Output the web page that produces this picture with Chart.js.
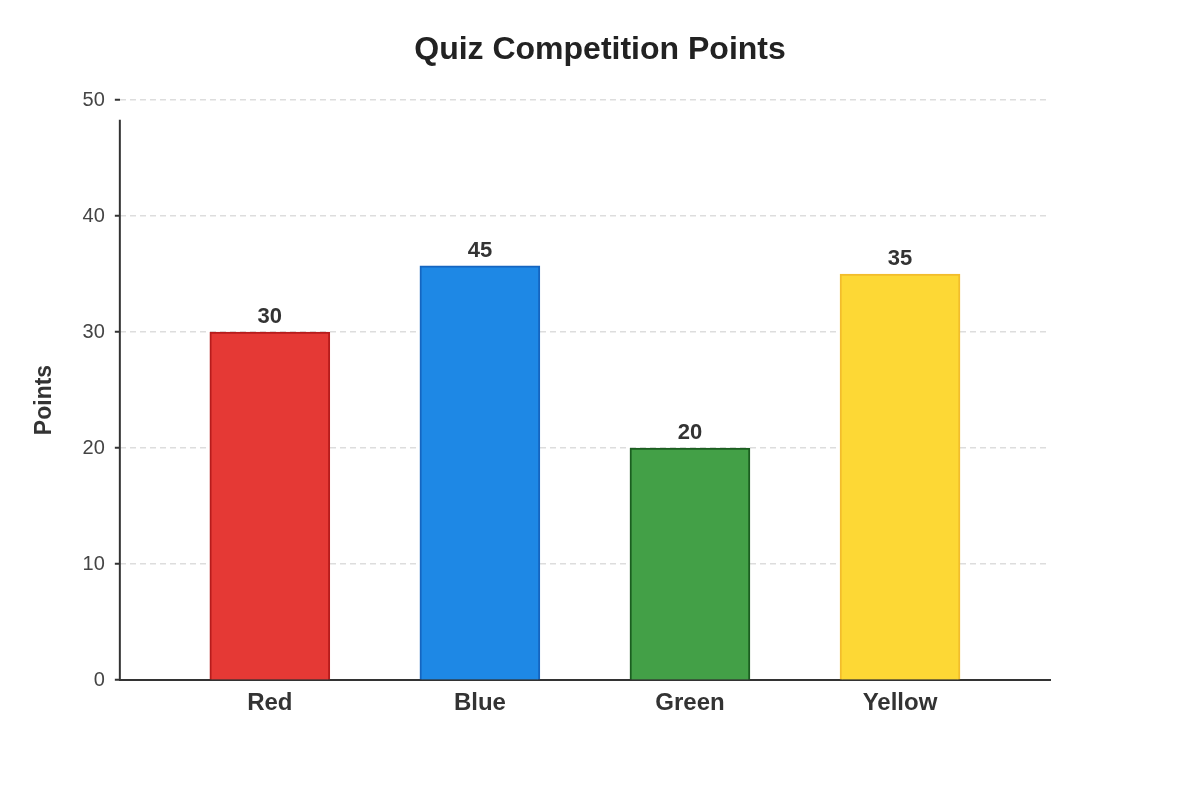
<!DOCTYPE html>
<html>
<head>
<meta charset="utf-8">
<script src="https://cdn.jsdelivr.net/npm/chart.js@4"></script>
<style>
  html, body { margin: 0; padding: 0; background: #fff; }
  #wrap { width: 1200px; height: 800px; }
</style>
</head>
<body>
<div id="wrap"><canvas id="bar"></canvas></div>
<script>
// data
let teams = ['Red', 'Blue', 'Green', 'Yellow'];
let points = [30, 35.7, 20, 35];          // bar heights as drawn
let pointLabels = ['30', '45', '20', '35']; // numbers printed over the bars
let yTicks = [0, 10, 20, 30, 40, 50];
let chartTitle = 'Quiz Competition Points';
let yTitle = 'Points';

let fills = ['#e53935', '#1e88e5', '#43a047', '#fdd835'];
let edges = ['#b71c1c', '#1565c0', '#1b5e20', '#f2bd2c'];

const FONT = '"Liberation Sans", Arial, sans-serif';
Chart.defaults.font.family = FONT;

// numbers over the bars
const barLabels = {
  id: 'barLabels',
  afterDatasetsDraw(chart) {
    const ctx = chart.ctx;
    const meta = chart.getDatasetMeta(0);
    ctx.save();
    ctx.font = 'bold 22px ' + FONT;
    ctx.fillStyle = '#333';
    ctx.textAlign = 'center';
    ctx.textBaseline = 'bottom';
    meta.data.forEach((bar, i) => {
      ctx.fillText(pointLabels[i], bar.x, bar.y - 4);
    });
    ctx.restore();
  }
};

// y axis line stops a bit below the top gridline, titles centred on the page
const extras = {
  id: 'extras',
  afterDraw(chart) {
    const ctx = chart.ctx;
    const y = chart.scales.y;
    ctx.save();
    ctx.strokeStyle = '#333';
    ctx.lineWidth = 2;
    ctx.beginPath();
    ctx.moveTo(chart.chartArea.left, y.getPixelForValue(48.3));
    ctx.lineTo(chart.chartArea.left, chart.chartArea.bottom);
    ctx.stroke();

    ctx.font = 'bold 32px ' + FONT;
    ctx.fillStyle = '#222';
    ctx.textAlign = 'center';
    ctx.textBaseline = 'middle';
    ctx.fillText(chartTitle, chart.width / 2, 50);

    ctx.translate(y.left + 18, chart.height / 2);
    ctx.rotate(-Math.PI / 2);
    ctx.font = 'bold 23px ' + FONT;
    ctx.fillStyle = '#333';
    ctx.fillText(yTitle, 0, 0);
    ctx.restore();
  }
};

new Chart(document.getElementById('bar'), {
  type: 'bar',
  data: {
    datasets: [{
      label: 'Points',
      data: points.map((v, i) => ({ x: i, y: v })),
      backgroundColor: fills,
      borderColor: edges,
      borderWidth: 2,
      borderSkipped: 'bottom',
      barThickness: 120
    }]
  },
  plugins: [barLabels, extras],
  options: {
    responsive: true,
    maintainAspectRatio: false,
    animation: false,
    layout: { padding: { left: 27, right: 150, top: 100, bottom: 73 } },
    plugins: {
      legend: { display: false },
      tooltip: { enabled: false },
      title: { display: false }
    },
    scales: {
      x: {
        type: 'linear',
        offset: false,
        min: -0.714,
        max: 3.714,
        afterBuildTicks: (s) => { s.ticks = teams.map((t, i) => ({ value: i })); },
        ticks: {
          callback: (v) => teams[v],
          color: '#333',
          font: { size: 24, weight: 'bold' },
          padding: 9,
          autoSkip: false,
          maxRotation: 0
        },
        grid: { display: false, drawTicks: false, offset: false },
        border: { display: true, color: '#333', width: 2 }
      },
      y: {
        min: 0,
        max: 50,
        afterBuildTicks: (s) => { s.ticks = yTicks.map(v => ({ value: v })); },
        ticks: {
          color: '#444',
          font: { size: 20 },
          padding: 10
        },
        grid: {
          color: (c) => c.tick && c.tick.value === 0 ? 'rgba(0,0,0,0)' : '#dddddd',
          lineWidth: 1.5,
          tickColor: '#333',
          tickLength: 5,
          tickWidth: 2
        },
        border: { display: false, dash: [6, 4] },
        // space kept for the axis title, which the plugin draws
        title: {
          display: true,
          text: yTitle,
          color: 'rgba(0,0,0,0)',
          font: { size: 23, weight: 'bold' },
          padding: { bottom: 14 }
        }
      }
    }
  }
});
</script>
</body>
</html>
